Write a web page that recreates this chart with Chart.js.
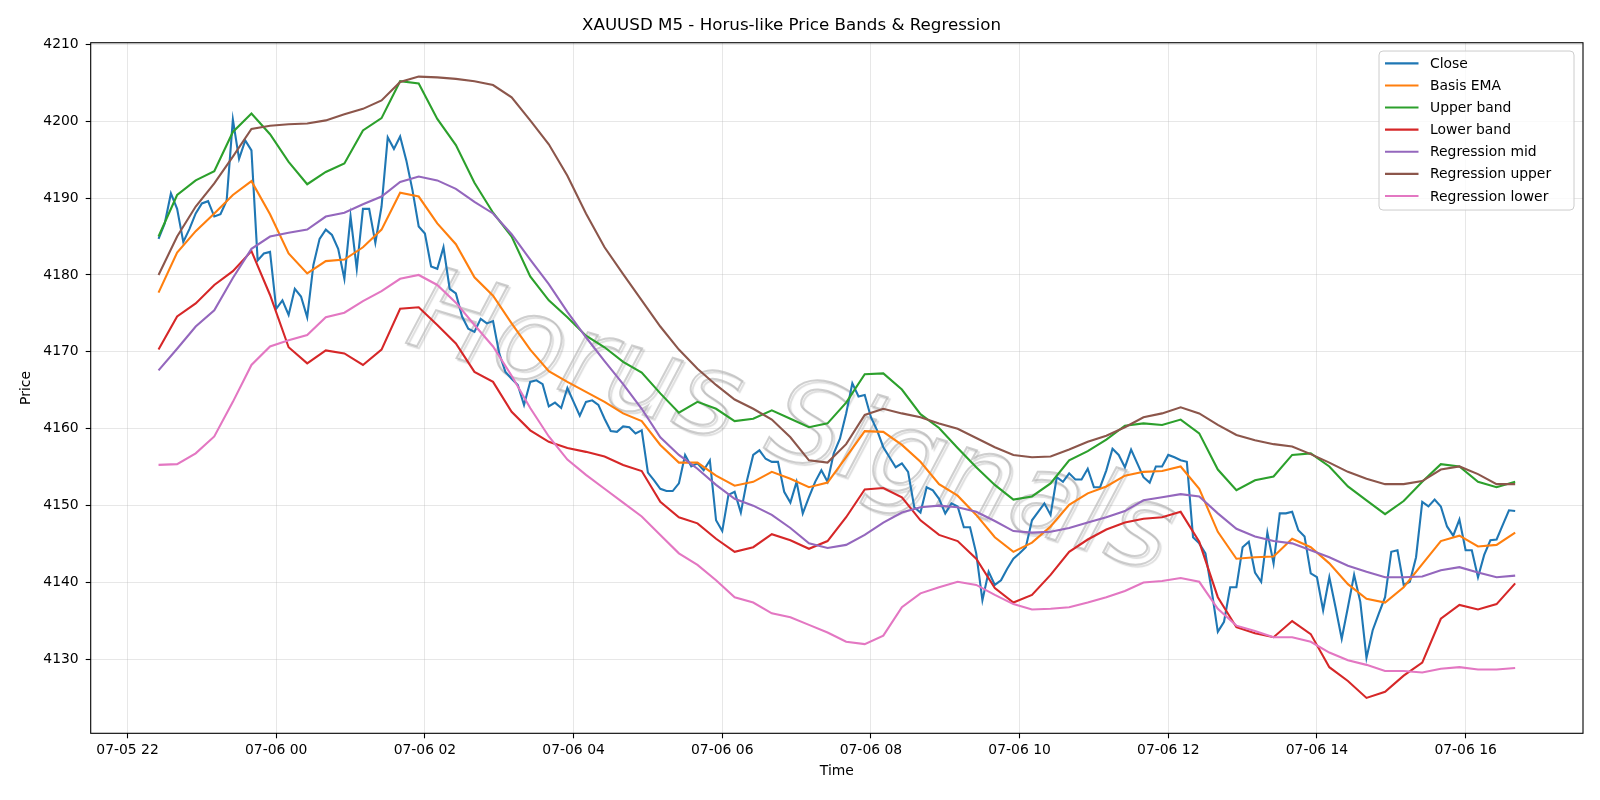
<!DOCTYPE html>
<html>
<head>
<meta charset="utf-8">
<title>XAUUSD M5 - Horus-like Price Bands &amp; Regression</title>
<script src="https://cdn.jsdelivr.net/npm/chart.js@4.4.1/dist/chart.umd.min.js"></script>
<style>
  html, body { margin: 0; padding: 0; background: #fff; }
  #chart { display: block; }
</style>
</head>
<body>
<canvas id="chart" width="1600" height="800"></canvas>
<script>
// XAUUSD M5 - price bands & regression.
// x values are minutes after 07-05 22:00.

const closeStart = 25;   // 07-05 22:25
const closeStep = 5;     // M5 candles
const bandStart = 25;
const bandStep = 15;     // smooth lines sampled every 3rd candle

const closeValues = [
  4184.7, 4186.7, 4190.6, 4188.6, 4184.3, 4186.0, 4188.0, 4189.3, 4189.6, 4187.6,
  4187.9, 4189.7, 4200.2, 4195.1, 4197.5, 4196.2, 4181.9, 4182.8, 4183.0, 4175.6,
  4176.7, 4174.8, 4178.2, 4177.2, 4174.5, 4181.3, 4184.7, 4185.9, 4185.2, 4183.4,
  4179.5, 4187.6, 4180.8, 4188.6, 4188.6, 4184.2, 4188.9, 4197.9, 4196.4, 4198.0,
  4194.9, 4191.0, 4186.3, 4185.4, 4181.1, 4180.8, 4183.6, 4178.2, 4177.6, 4174.6,
  4173.0, 4172.6, 4174.3, 4173.7, 4174.0, 4169.8, 4167.4, 4166.5, 4165.7, 4163.1,
  4166.1, 4166.3, 4165.8, 4162.9, 4163.4, 4162.7, 4165.3, 4163.5, 4161.7, 4163.5,
  4163.7, 4163.1, 4161.3, 4159.7, 4159.6, 4160.3, 4160.2, 4159.4, 4159.8, 4154.3,
  4153.3, 4152.2, 4151.9, 4151.9, 4152.9, 4156.6, 4155.1, 4155.5, 4154.6, 4155.9,
  4148.1, 4146.7, 4151.4, 4151.8, 4149.1, 4153.3, 4156.6, 4157.2, 4156.1, 4155.7,
  4155.7, 4151.8, 4150.4, 4153.1, 4149.0, 4151.1, 4153.1, 4154.6, 4153.1, 4156.8,
  4158.7, 4162.0, 4165.9, 4164.2, 4164.4, 4161.5, 4159.8, 4157.6, 4156.3, 4155.0,
  4155.5, 4154.4, 4149.8, 4149.1, 4152.4, 4152.0, 4150.9, 4149.0, 4150.3, 4149.9,
  4147.2, 4147.2, 4143.8, 4137.7, 4141.4, 4139.7, 4140.3, 4141.8, 4143.1, 4143.8,
  4144.6, 4148.1, 4149.2, 4150.3, 4148.8, 4153.7, 4153.1, 4154.2, 4153.4, 4153.4,
  4154.8, 4152.4, 4152.4, 4154.6, 4157.4, 4156.6, 4155.0, 4157.3, 4155.5, 4153.7,
  4153.0, 4155.1, 4155.1, 4156.6, 4156.3, 4155.9, 4155.7, 4145.9, 4145.1, 4143.8,
  4139.0, 4133.6, 4134.9, 4139.4, 4139.4, 4144.6, 4145.3, 4141.3, 4140.1, 4146.5,
  4142.5, 4149.0, 4149.0, 4149.2, 4146.8, 4146.0, 4141.2, 4140.7, 4136.4, 4140.7,
  4136.8, 4132.7, 4136.8, 4141.0, 4137.5, 4130.2, 4133.8, 4136.0, 4138.1, 4144.0,
  4144.2, 4139.7, 4140.1, 4143.3, 4150.5, 4149.9, 4150.8, 4149.9, 4147.3, 4146.1,
  4148.2, 4144.2, 4144.2, 4140.7, 4143.6, 4145.5, 4145.6, 4147.5, 4149.4, 4149.3
];

const basisEma = [
  4177.7, 4182.9, 4185.7, 4188.0, 4190.4, 4192.2, 4187.9, 4182.8, 4180.2, 4181.8,
  4182.0, 4183.6, 4185.9, 4190.7, 4190.2, 4186.7, 4184.0, 4179.7, 4177.3, 4173.7,
  4170.3, 4167.5, 4166.1, 4164.8, 4163.5, 4162.0, 4161.0, 4157.9, 4155.6, 4155.6,
  4153.9, 4152.6, 4153.1, 4154.4, 4153.5, 4152.4, 4153.0, 4156.3, 4159.7, 4159.6,
  4157.9, 4155.7, 4152.8, 4151.3, 4148.8, 4145.9, 4144.0, 4145.2, 4147.3, 4150.1,
  4151.6, 4152.5, 4153.9, 4154.4, 4154.5, 4155.1, 4152.2, 4146.6, 4143.1, 4143.3,
  4143.4, 4145.7, 4144.6, 4142.5, 4139.8, 4137.9, 4137.4, 4139.4, 4142.4, 4145.4,
  4146.1, 4144.7, 4144.9, 4146.5
];

const upperBand = [
  4185.0, 4190.4, 4192.3, 4193.5, 4198.6, 4201.0, 4198.3, 4194.7, 4191.8, 4193.4,
  4194.5, 4198.8, 4200.4, 4205.2, 4204.9, 4200.3, 4196.9, 4192.0, 4188.1, 4185.0,
  4179.8, 4176.7, 4174.5, 4172.1, 4170.6, 4168.7, 4167.3, 4164.6, 4162.1, 4163.5,
  4162.6, 4161.0, 4161.3, 4162.4, 4161.3, 4160.2, 4160.7, 4163.4, 4167.1, 4167.2,
  4165.1, 4161.9, 4160.1, 4157.5, 4155.0, 4152.7, 4150.8, 4151.2, 4152.9, 4155.9,
  4157.1, 4158.6, 4160.4, 4160.7, 4160.5, 4161.2, 4159.4, 4154.7, 4152.0, 4153.3,
  4153.8, 4156.6, 4156.8, 4155.1, 4152.5, 4150.7, 4148.9, 4150.6, 4153.1, 4155.4,
  4155.1, 4153.1, 4152.4, 4153.1
];

const lowerBand = [
  4170.3, 4174.6, 4176.3, 4178.7, 4180.5, 4183.1, 4177.4, 4170.6, 4168.5, 4170.2,
  4169.8, 4168.3, 4170.3, 4175.6, 4175.8, 4173.5, 4171.1, 4167.4, 4166.1, 4162.2,
  4159.8, 4158.3, 4157.5, 4157.0, 4156.4, 4155.3, 4154.5, 4150.5, 4148.5, 4147.7,
  4145.7, 4144.0, 4144.6, 4146.3, 4145.5, 4144.4, 4145.4, 4148.5, 4152.1, 4152.3,
  4151.1, 4148.1, 4146.2, 4145.4, 4143.1, 4139.3, 4137.4, 4138.4, 4141.0, 4144.0,
  4145.6, 4146.9, 4147.8, 4148.3, 4148.5, 4149.2, 4145.3, 4138.1, 4134.2, 4133.4,
  4132.9, 4135.0, 4133.3, 4129.0, 4127.2, 4125.0, 4125.8, 4127.9, 4129.6, 4135.3,
  4137.1, 4136.5, 4137.2, 4139.9
];

const regressionMid = [
  4167.6, 4170.4, 4173.3, 4175.4, 4179.6, 4183.4, 4185.0, 4185.5, 4185.9, 4187.6,
  4188.1, 4189.2, 4190.2, 4192.1, 4192.8, 4192.3, 4191.2, 4189.5, 4188.0, 4185.3,
  4182.0, 4178.8, 4175.2, 4171.9, 4168.8, 4165.8, 4162.6, 4158.9, 4156.6, 4154.8,
  4152.7, 4150.9, 4150.0, 4148.8, 4147.1, 4145.1, 4144.5, 4144.9, 4146.2, 4147.8,
  4149.1, 4149.8, 4150.0, 4149.8, 4149.2, 4148.0, 4146.7, 4146.5, 4146.6, 4147.1,
  4147.8, 4148.5, 4149.3, 4150.7, 4151.1, 4151.5, 4151.2, 4149.0, 4147.0, 4146.0,
  4145.4, 4145.1, 4144.2, 4143.3, 4142.2, 4141.4, 4140.7, 4140.7, 4140.8, 4141.6,
  4142.0, 4141.3, 4140.7, 4140.9
];

const regressionUpper = [
  4180.0, 4185.0, 4188.9, 4191.9, 4195.4, 4199.0, 4199.4, 4199.6, 4199.7, 4200.1,
  4200.9, 4201.6, 4202.7, 4205.1, 4205.8, 4205.7, 4205.5, 4205.2, 4204.7, 4203.1,
  4200.1, 4197.0, 4192.9, 4188.0, 4183.6, 4180.1, 4176.7, 4173.3, 4170.3, 4167.8,
  4165.7, 4163.8, 4162.6, 4161.2, 4158.9, 4155.9, 4155.6, 4158.0, 4161.8, 4162.6,
  4162.0, 4161.5, 4160.7, 4160.0, 4158.8, 4157.6, 4156.6, 4156.3, 4156.4, 4157.3,
  4158.3, 4159.1, 4160.2, 4161.5, 4162.0, 4162.8, 4162.0, 4160.5, 4159.2, 4158.5,
  4158.0, 4157.7, 4156.7, 4155.6, 4154.4, 4153.5, 4152.8, 4152.8, 4153.2, 4154.7,
  4155.1, 4154.1, 4152.8, 4152.8
];

const regressionLower = [
  4155.3, 4155.4, 4156.8, 4159.0, 4163.5, 4168.3, 4170.7, 4171.5, 4172.2, 4174.5,
  4175.1, 4176.6, 4177.9, 4179.5, 4180.0, 4178.7, 4176.4, 4173.5, 4170.7, 4166.9,
  4162.7, 4159.0, 4156.0, 4154.0, 4152.2, 4150.4, 4148.6, 4146.2, 4143.8, 4142.3,
  4140.3, 4138.1, 4137.4, 4136.0, 4135.5, 4134.5, 4133.5, 4132.3, 4132.0, 4133.1,
  4136.8, 4138.6, 4139.4, 4140.1, 4139.7, 4138.4, 4137.2, 4136.5, 4136.6, 4136.8,
  4137.4, 4138.1, 4138.9, 4140.0, 4140.2, 4140.6, 4140.1, 4136.6, 4134.4, 4133.7,
  4132.9, 4132.9, 4132.3, 4130.9, 4129.9, 4129.3, 4128.5, 4128.5, 4128.3, 4128.8,
  4129.0, 4128.7, 4128.7, 4128.9
];

const xTickMinutes = [0, 120, 240, 360, 480, 600, 720, 840, 960, 1080];
const xTickLabels = ['07-05 22', '07-06 00', '07-06 02', '07-06 04', '07-06 06',
                     '07-06 08', '07-06 10', '07-06 12', '07-06 14', '07-06 16'];
const yTickValues = [4130, 4140, 4150, 4160, 4170, 4180, 4190, 4200, 4210];

const fontFamily = '"DejaVu Sans", "Liberation Sans", sans-serif';
const gridColor = 'rgba(176, 176, 176, 0.3)';

Chart.defaults.font.family = fontFamily;
Chart.defaults.color = '#000';

function toPoints(values, start, step) {
  return values.map((v, i) => ({ x: start + i * step, y: v }));
}

function lineSet(label, color, data, order) {
  return {
    label: label,
    data: data,
    borderColor: color,
    backgroundColor: color,
    borderWidth: 2.1,
    pointRadius: 0,
    pointHoverRadius: 0,
    tension: 0,
    fill: false,
    order: order
  };
}

// faint "Horus Signals" text behind the lines
const watermark = {
  id: 'watermark',
  beforeDatasetsDraw(chart) {
    const ctx = chart.ctx;
    const text = 'Horus Signals';
    ctx.save();
    ctx.translate(403, 342);
    ctx.rotate(0.295);
    ctx.font = 'italic 100px ' + fontFamily;
    const size = 100 * 790 / ctx.measureText(text).width;
    ctx.font = 'italic ' + size.toFixed(1) + 'px ' + fontFamily;
    ctx.textAlign = 'left';
    ctx.textBaseline = 'alphabetic';
    ctx.shadowColor = 'rgba(90, 90, 90, 0.35)';
    ctx.shadowOffsetX = 2;
    ctx.shadowOffsetY = 2;
    ctx.shadowBlur = 1;
    ctx.lineWidth = 2;
    ctx.strokeStyle = 'rgba(175, 175, 175, 0.6)';
    ctx.strokeText(text, 0, 0);
    ctx.restore();
  }
};

// black box round the plot area
const frame = {
  id: 'frame',
  afterDatasetsDraw(chart) {
    const { ctx, chartArea } = chart;
    ctx.save();
    ctx.strokeStyle = '#000';
    ctx.lineWidth = 1.1;
    ctx.strokeRect(chartArea.left, chartArea.top,
                   chartArea.right - chartArea.left, chartArea.bottom - chartArea.top);
    ctx.restore();
  }
};

// legend box in the upper right corner of the plot
const legendBox = {
  id: 'legendBox',
  afterDatasetsDraw(chart) {
    const { ctx, chartArea } = chart;
    const sets = chart.data.datasets;
    const w = 195;
    const h = 159;
    const x = chartArea.right - 9 - w;
    const y = chartArea.top + 8.3;
    ctx.save();
    ctx.beginPath();
    ctx.roundRect(x, y, w, h, 4);
    ctx.fillStyle = 'rgba(255, 255, 255, 0.8)';
    ctx.fill();
    ctx.strokeStyle = '#cccccc';
    ctx.lineWidth = 1;
    ctx.stroke();
    ctx.font = '13.9px ' + fontFamily;
    ctx.textBaseline = 'middle';
    ctx.textAlign = 'left';
    sets.forEach((ds, i) => {
      const rowY = y + 12.3 + i * 22.1;
      ctx.beginPath();
      ctx.moveTo(x + 6, rowY);
      ctx.lineTo(x + 39.5, rowY);
      ctx.strokeStyle = ds.borderColor;
      ctx.lineWidth = 2.1;
      ctx.stroke();
      ctx.fillStyle = '#000';
      ctx.fillText(ds.label, x + 51, rowY + 1);
    });
    ctx.restore();
  }
};

new Chart(document.getElementById('chart'), {
  type: 'line',
  data: {
    datasets: [
      lineSet('Close', '#1f77b4', toPoints(closeValues, closeStart, closeStep), 6),
      lineSet('Basis EMA', '#ff7f0e', toPoints(basisEma, bandStart, bandStep), 5),
      lineSet('Upper band', '#2ca02c', toPoints(upperBand, bandStart, bandStep), 4),
      lineSet('Lower band', '#d62728', toPoints(lowerBand, bandStart, bandStep), 3),
      lineSet('Regression mid', '#9467bd', toPoints(regressionMid, bandStart, bandStep), 2),
      lineSet('Regression upper', '#8c564b', toPoints(regressionUpper, bandStart, bandStep), 1),
      lineSet('Regression lower', '#e377c2', toPoints(regressionLower, bandStart, bandStep), 0)
    ]
  },
  options: {
    responsive: false,
    animation: false,
    devicePixelRatio: 1,
    layout: { padding: { left: 0, right: 17, top: 0, bottom: 0 } },
    plugins: {
      legend: { display: false },
      tooltip: { enabled: false },
      title: {
        display: true,
        text: 'XAUUSD M5 - Horus-like Price Bands & Regression',
        color: '#000',
        font: { family: fontFamily, size: 16.7, weight: 'normal' },
        padding: { top: 15.3, bottom: 7.4 }
      }
    },
    scales: {
      x: {
        type: 'linear',
        min: -29.75,
        max: 1174.75,
        afterBuildTicks: (scale) => { scale.ticks = xTickMinutes.map(v => ({ value: v })); },
        afterFit: (scale) => { scale.height = 66.7; },
        ticks: {
          callback: (value, index) => xTickLabels[index],
          color: '#000',
          font: { size: 13.9 },
          padding: 4,
          maxRotation: 0,
          autoSkip: false
        },
        grid: { color: gridColor, lineWidth: 1, tickColor: '#000', tickLength: 5, tickWidth: 1.1 },
        border: { display: false },
        title: {
          display: true,
          text: 'Time',
          color: '#000',
          font: { size: 13.9 },
          padding: { top: 0, bottom: 20.5 }
        }
      },
      y: {
        min: 4120.4,
        max: 4210.2,
        afterBuildTicks: (scale) => { scale.ticks = yTickValues.map(v => ({ value: v })); },
        afterFit: (scale) => { scale.width = 90.7; },
        ticks: {
          callback: (value) => String(value),
          color: '#000',
          font: { size: 13.9 },
          padding: 7
        },
        grid: { color: gridColor, lineWidth: 1, tickColor: '#000', tickLength: 5, tickWidth: 1.1 },
        border: { display: false },
        title: {
          display: true,
          text: 'Price',
          color: '#000',
          font: { size: 13.9 },
          padding: { top: 18, bottom: 0 }
        }
      }
    }
  },
  plugins: [watermark, frame, legendBox]
});
</script>
</body>
</html>
